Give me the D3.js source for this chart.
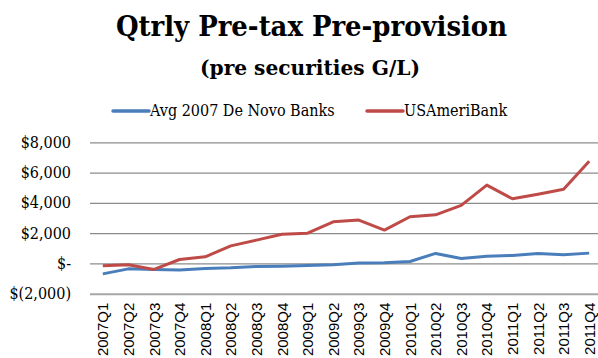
<!DOCTYPE html>
<html>
<head>
<meta charset="utf-8">
<script src="https://cdn.jsdelivr.net/npm/d3@7.9.0/dist/d3.min.js"></script>
<style>
  body { margin: 0; background: #fff; }
  svg { display: block; }
  .serif { font-family: "DejaVu Serif Condensed", "DejaVu Serif", serif; font-stretch: condensed; }
</style>
</head>
<body>
<div id="chart"></div>
<script>
const quarters = ['2007Q1','2007Q2','2007Q3','2007Q4','2008Q1','2008Q2','2008Q3','2008Q4',
  '2009Q1','2009Q2','2009Q3','2009Q4','2010Q1','2010Q2','2010Q3','2010Q4',
  '2011Q1','2011Q2','2011Q3','2011Q4'];
const deNovo = [-690,-360,-400,-440,-330,-290,-200,-180,-130,-90,20,40,130,660,330,480,530,660,570,680];
const usameri = [-160,-90,-400,260,440,1160,1540,1930,2000,2750,2860,2200,3080,3210,3830,5170,4270,4570,4900,6750];
const yTicks = [-2000, 0, 2000, 4000, 6000, 8000];

const width = 598, height = 358;
const plot = { left: 90, right: 602, top: 142.3, bottom: 293.7 };

const svg = d3.select('#chart').append('svg')
  .attr('width', width).attr('height', height);

// Titles
svg.append('text')
  .attr('class', 'serif')
  .attr('x', 116).attr('y', 35.5)
  .attr('textLength', 391).attr('lengthAdjust', 'spacingAndGlyphs')
  .style('font-weight', 'bold')
  .style('font-size', '27.5px')
  .text('Qtrly Pre-tax Pre-provision');

svg.append('text')
  .attr('class', 'serif')
  .attr('x', 200).attr('y', 75)
  .attr('textLength', 220).attr('lengthAdjust', 'spacingAndGlyphs')
  .style('font-weight', 'bold')
  .style('font-size', '21px')
  .text('(pre securities G/L)');

const x = d3.scaleBand().domain(quarters).range([plot.left, plot.right]);
const y = d3.scaleLinear().domain([-2000, 8000]).range([plot.bottom, plot.top]);

// gridlines
svg.append('g')
  .attr('transform', `translate(${plot.left},0)`)
  .call(d3.axisLeft(y).tickValues(yTicks).tickFormat('').tickSize(-(plot.right - plot.left)))
  .call(g => g.select('.domain').remove())
  .call(g => g.selectAll('line')
    .attr('stroke', d => d === -2000 ? '#a6a6a6' : '#8c8c8c')
    .attr('stroke-width', d => d === -2000 ? 2 : 1.3));

// y labels
const fmt = v => v === 0 ? '$-' : v < 0 ? '$(' + d3.format(',')(-v) + ')' : '$' + d3.format(',')(v);
svg.append('g')
  .selectAll('text')
  .data(yTicks)
  .join('text')
  .attr('class', 'serif')
  .attr('x', 71)
  .attr('y', d => y(d) + 5.5)
  .attr('text-anchor', 'end')
  .style('font-size', '16px')
  .attr('fill', '#000')
  .text(fmt);

// x labels
svg.append('g')
  .selectAll('text')
  .data(quarters)
  .join('text')
  .attr('transform', d => `translate(${x(d) + x.bandwidth() / 2 + 5.5},${plot.bottom + 9}) rotate(-90)`)
  .attr('text-anchor', 'end')
  .style('font-family', '"Liberation Sans", Arial, sans-serif')
  .style('font-size', '15px')
  .attr('fill', '#000')
  .text(d => d);

const line = d3.line()
  .x((d, i) => x(quarters[i]) + x.bandwidth() / 2)
  .y(d => y(d));

const series = [
  { name: 'Avg 2007 De Novo Banks', values: deNovo, color: '#4a7ebb' },
  { name: 'USAmeriBank', values: usameri, color: '#be4b48' }
];

svg.append('g')
  .selectAll('path')
  .data(series)
  .join('path')
  .attr('d', d => line(d.values))
  .attr('fill', 'none')
  .attr('stroke', d => d.color)
  .attr('stroke-width', 3)
  .attr('stroke-linejoin', 'round');

// legend
const legendX = [113, 367];
const leg = svg.append('g').selectAll('g')
  .data(series)
  .join('g')
  .attr('transform', (d, i) => `translate(${legendX[i]},111)`);
leg.append('line')
  .attr('x1', 0).attr('x2', 36)
  .attr('stroke', d => d.color)
  .attr('stroke-width', 3.5)
  .attr('stroke-linecap', 'round');
leg.append('text')
  .attr('class', 'serif')
  .attr('x', 37).attr('y', 5)
  .style('font-size', '16px')
  .text(d => d.name);
</script>
</body>
</html>
